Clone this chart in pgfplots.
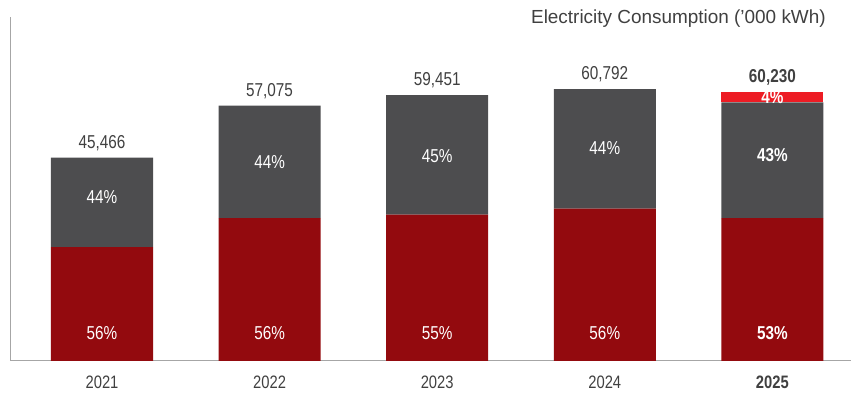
\documentclass[border=0pt]{standalone}
\usepackage{pgfplots}
\pgfplotsset{compat=1.18}
\usepackage{fontspec}
\setmainfont{Liberation Sans}
\newfontfamily\narrow{Liberation Sans}[FakeStretch=0.82]
\definecolor{dred}{HTML}{930A0E}
\definecolor{dgray}{HTML}{4D4D4F}
\definecolor{bred}{HTML}{ED1C24}
\definecolor{txt}{HTML}{404040}
\definecolor{axl}{HTML}{A6A6A6}
\tikzset{
 lbl/.style={font=\narrow\fontsize{14}{17}\selectfont, text=txt, anchor=base},
 pct/.style={font=\narrow\fontsize{14}{17}\selectfont, text=white, anchor=center},
}
\begin{document}
\begin{tikzpicture}
\useasboundingbox (-8.25pt,-26.25pt) rectangle (630pt,270.75pt);
\begin{axis}[at={(0,0)},anchor=south west, scale only axis, width=630pt, height=258pt,
 xmin=-0.543, xmax=4.469, ymin=0, ymax=76890,
 ybar stacked, bar width=0.609,
 axis x line=bottom, axis y line=left,
 axis line style={draw=axl, line width=0.75pt, -},
 ytick=\empty, xtick={0,1,2,3,4}, xticklabels={2021,2022,2023,2024,\textbf{2025}},
 major tick length=0pt,
 xticklabel style={font=\narrow\fontsize{13.5}{16}\selectfont, text=txt, anchor=base, yshift=-21pt},
 clip=false,
]
\addplot[fill=dred, draw=none] coordinates {(0,25461)(1,31962)(2,32698)(3,34044)(4,31922)};
\addplot[fill=dgray, draw=none] coordinates {(0,20005)(1,25113)(2,26753)(3,26748)(4,25899)};
\addplot[fill=bred, draw=none] coordinates {(0,0)(1,0)(2,0)(3,0)(4,2409)};
% totals
\node[lbl] at (axis cs:0,45466) [yshift=7pt] {45,466};
\node[lbl] at (axis cs:1,57075) [yshift=7pt] {57,075};
\node[lbl] at (axis cs:2,59451) [yshift=7pt] {59,451};
\node[lbl] at (axis cs:3,60792) [yshift=7pt] {60,792};
\node[lbl] at (axis cs:4,60230) [yshift=7pt] {\bfseries 60,230};
% positions of share labels
\coordinate (g0) at (axis cs:0,36670);
\coordinate (g1) at (axis cs:1,44500);
\coordinate (g2) at (axis cs:2,45750);
\coordinate (g3) at (axis cs:3,47500);
\coordinate (g4) at (axis cs:4,46000);
\coordinate (r0) at (axis cs:0,6260);
\coordinate (r1) at (axis cs:1,6260);
\coordinate (r2) at (axis cs:2,6260);
\coordinate (r3) at (axis cs:3,6260);
\coordinate (r4) at (axis cs:4,6260);
\coordinate (b4) at (axis cs:4,59000);
\end{axis}
\node[pct] at (g0) {44\%};
\node[pct] at (g1) {44\%};
\node[pct] at (g2) {45\%};
\node[pct] at (g3) {44\%};
\node[pct] at (g4) {\bfseries 43\%};
\node[pct] at (r0) {56\%};
\node[pct] at (r1) {56\%};
\node[pct] at (r2) {55\%};
\node[pct] at (r3) {56\%};
\node[pct] at (r4) {\bfseries 53\%};
\node[pct] at (b4) {\bfseries 4\%};
\node[anchor=east, inner sep=0pt, text=txt, font=\fontsize{14.2}{17}\selectfont] at (611.25pt,256.8pt) {Electricity Consumption ('000 kWh)};
\end{tikzpicture}
\end{document}
